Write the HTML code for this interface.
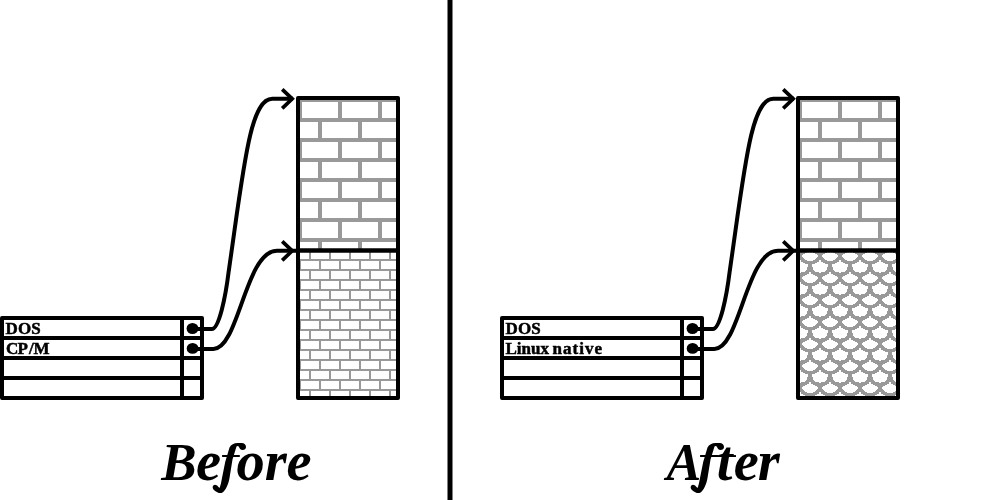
<!DOCTYPE html>
<html><head><meta charset="utf-8">
<style>
html,body{margin:0;padding:0;background:#fff;width:1000px;height:500px;overflow:hidden}
svg{display:block;will-change:transform}
.lbl{font-family:"Liberation Serif",serif;font-weight:bold;font-size:17px;fill:#000;stroke:#000;stroke-width:0.5}
.big{font-family:"Liberation Serif",serif;font-weight:bold;font-style:italic;font-size:53px;fill:#000}
</style></head>
<body>
<svg width="1000" height="500" viewBox="0 0 1000 500">
<defs>
  <pattern id="brick" patternUnits="userSpaceOnUse" x="300" y="100" width="40" height="40">
    <rect x="0" y="0" width="40" height="40" fill="#fff"/>
    <g fill="#999">
      <rect x="0" y="-2" width="40" height="4"/>
      <rect x="0" y="18" width="40" height="4"/>
      <rect x="0" y="38" width="40" height="4"/>
      <rect x="-2" y="0" width="4" height="20"/>
      <rect x="38" y="0" width="4" height="20"/>
      <rect x="18" y="20" width="4" height="20"/>
    </g>
  </pattern>
  <pattern id="brick2" href="#brick" x="800"/>
  <pattern id="sbrick" patternUnits="userSpaceOnUse" x="300" y="240" width="20" height="20">
    <rect x="0" y="0" width="20" height="20" fill="#fff"/>
    <g fill="#999">
      <rect x="0" y="-1" width="20" height="2"/>
      <rect x="0" y="9" width="20" height="2"/>
      <rect x="0" y="19" width="20" height="2"/>
      <rect x="-1" y="0" width="2" height="10"/>
      <rect x="19" y="0" width="2" height="10"/>
      <rect x="9" y="10" width="2" height="10"/>
    </g>
  </pattern>
  <pattern id="fish" patternUnits="userSpaceOnUse" x="800" y="250" width="20" height="22">
    <rect x="0" y="0" width="20" height="22" fill="#999"/>
    <path fill="#fff" shape-rendering="crispEdges" d="M9,0h2v1h-2zM9,1h2v1h-2zM7,2h6v1h-6zM5,3h10v1h-10zM3,4h14v1h-14zM2,5h16v1h-16zM2,6h16v1h-16zM3,7h14v1h-14zM4,8h12v1h-12zM5,9h10v1h-10zM7,10h6v1h-6zM0,10h1v1h-1zM19,10h1v1h-1zM0,11h1v1h-1zM19,11h1v1h-1zM0,12h3v1h-3zM17,12h3v1h-3zM0,13h5v1h-5zM15,13h5v1h-5zM0,14h8v1h-8zM12,14h8v1h-8zM0,15h8v1h-8zM12,15h8v1h-8zM0,16h8v1h-8zM12,16h8v1h-8zM0,17h7v1h-7zM13,17h7v1h-7zM0,18h7v1h-7zM13,18h7v1h-7zM0,19h7v1h-7zM13,19h7v1h-7zM0,20h6v1h-6zM14,20h6v1h-6zM0,21h5v1h-5zM15,21h5v1h-5zM0,0h1v1h-1zM19,0h1v1h-1z"/>
  </pattern>
  <g id="table">
    <g fill="none" stroke="#000" stroke-width="4" stroke-linejoin="round">
      <rect x="2" y="318" width="200" height="80"/>
      <path d="M2,338H202M2,358H202M2,378H202M182,318V398"/>
    </g>
    <ellipse cx="192.5" cy="328.5" rx="5.9" ry="5.5" fill="#000"/>
    <ellipse cx="192.6" cy="348.4" rx="5.9" ry="5.4" fill="#000"/>

  </g>
  <g id="conn" fill="none" stroke="#000" stroke-width="4">
    <path d="M196,329 H211.8 C219,329 225.6,296.95 228.74,271.11 C243.5,169 249.8,98.8 272.3,98.8 H293"/>
    <path d="M196,348.9 H213.4 C238.8,348.9 245.4,250.8 276.9,250.8 H297"/>
    <path d="M282.2,89.3 L292.2,98.8 L282.2,108.3" stroke-width="3.7"/>
    <path d="M282.2,241.3 L292.2,250.8 L282.2,260.3" stroke-width="3.7"/>
  </g>
</defs>

<!-- LEFT PANEL -->
<rect x="300" y="100" width="96" height="150" fill="url(#brick)"/>
<rect x="300" y="250" width="96" height="146" fill="url(#sbrick)"/>
<use href="#table"/>
<use href="#conn"/>
<g fill="none" stroke="#000" stroke-width="4" stroke-linejoin="round">
  <rect x="298" y="98" width="100" height="300"/>
  <path d="M298,250.4H398" stroke-width="4.5"/>
</g>
<text class="lbl" x="5.4 17.9 31.2" y="334">DOS</text>
<text class="lbl" x="6 17.4 29.1 33.6" y="354">CP/M</text>

<g class="big">
  <text x="161.3" y="480">B</text>
  <text x="195.9" y="480" style="font-size:56.5px">e</text>
  <path d="M229.5,447.5 C231,444.5 234,443 237.5,443 L241.5,443 C244.5,443 246,445 246,447 C246,449 244.5,450 242.5,450 C240.5,450 239.5,448.5 239,447 C238.5,445.8 237.5,445.5 236.5,446.5 L232.5,459.5 L229.5,478 C228.5,484 226,490 222.5,492.5 C220,494 217,492.5 214.5,490.5 C212.5,489 212,486.5 213.5,485.2 C215,484 217,485 218,486.5 L219.5,488 C220.5,486 221.5,481 222,478 L225.2,462 Z M222.1,455.1 h17.7 v1.8 h-17.7 Z"/>
  <text x="236.6" y="480" style="font-size:56.5px">o</text>
  <text x="264.8" y="480" style="font-size:56.5px">r</text>
  <text x="286.6" y="480" style="font-size:56.5px">e</text>
</g>

<!-- DIVIDER -->
<rect x="447.5" y="0" width="5" height="500" fill="#000"/>

<!-- RIGHT PANEL -->
<rect x="800" y="100" width="96" height="150" fill="url(#brick2)"/>
<rect x="800" y="250" width="96" height="146" fill="url(#fish)"/>
<use href="#table" x="500"/>
<use href="#conn" x="501"/>
<g fill="none" stroke="#000" stroke-width="4" stroke-linejoin="round">
  <rect x="798" y="98" width="100" height="300"/>
  <path d="M798,250.4H898" stroke-width="4.5"/>
</g>
<text class="lbl" x="505.4 517.9 531.2" y="334">DOS</text>
<text class="lbl" x="505.5" y="354">Linux</text><text class="lbl" x="552.5" y="354" textLength="49.5">native</text>
<g class="big">
  <text x="666.6" y="480" style="font-size:52px">A</text>
  <path transform="translate(478,0)" d="M229.5,447.5 C231,444.5 234,443 237.5,443 L241.5,443 C244.5,443 246,445 246,447 C246,449 244.5,450 242.5,450 C240.5,450 239.5,448.5 239,447 C238.5,445.8 237.5,445.5 236.5,446.5 L232.5,459.5 L229.5,478 C228.5,484 226,490 222.5,492.5 C220,494 217,492.5 214.5,490.5 C212.5,489 212,486.5 213.5,485.2 C215,484 217,485 218,486.5 L219.5,488 C220.5,486 221.5,481 222,478 L225.2,462 Z M222.1,455.1 h17.7 v1.8 h-17.7 Z"/>
  <rect x="701" y="455.1" width="35" height="1.9"/>
  <text x="716.7" y="480" style="font-size:56.5px">t</text>
  <text x="733.7" y="480" style="font-size:56.5px">e</text>
  <text x="757.7" y="480" style="font-size:56.5px">r</text>
</g>
</svg>
</body></html>
